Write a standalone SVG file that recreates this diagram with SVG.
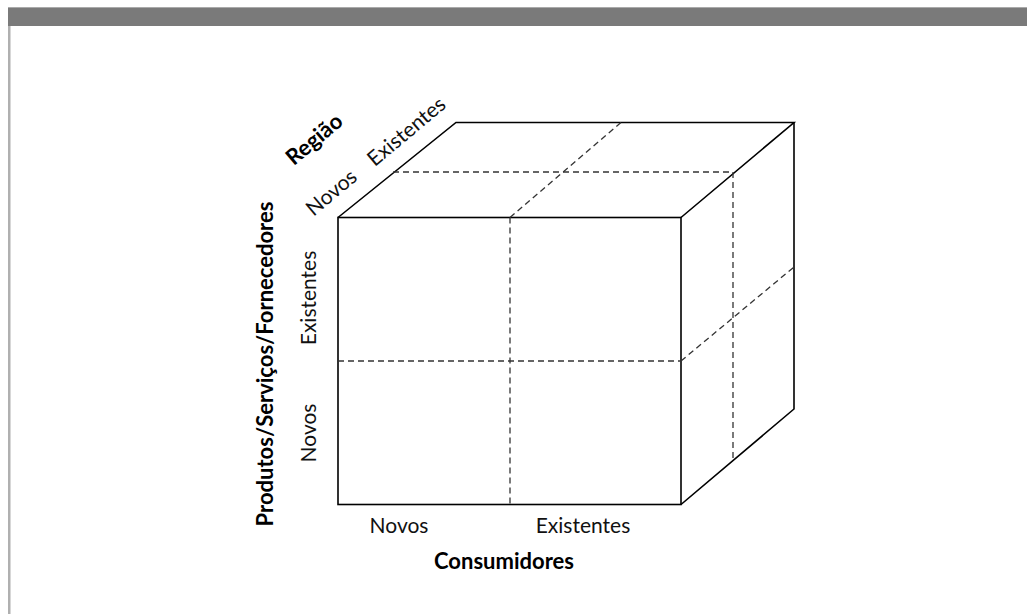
<svg xmlns="http://www.w3.org/2000/svg" width="1027" height="614" viewBox="0 0 1027 614">
  <style>
    .edge { stroke: #000; stroke-width: 1.6; fill: none; }
    .dash { stroke: #333; stroke-width: 1.3; fill: none; stroke-dasharray: 6 4; }
    .lbl { font-family: Lato, "Open Sans", sans-serif; font-size: 21px; fill: #111; text-anchor: middle; }
    .ttl { font-family: Lato, "Open Sans", sans-serif; font-size: 22px; font-weight: bold; fill: #000; text-anchor: middle; }
  </style>
  <rect width="1027" height="614" fill="#fff"/>
  <!-- page frame -->
  <rect x="8" y="7" width="1019" height="19" fill="#7a7a7a"/>
  <line x1="8" y1="7.5" x2="1027" y2="7.5" stroke="#aaa" stroke-width="1"/>
  <rect x="8" y="26" width="2.5" height="588" fill="#b0b0b0"/>

  <g id="cube">
    <!-- front face -->
    <rect class="edge" x="338" y="217.5" width="343" height="287"/>
    <!-- top and right faces -->
    <polyline class="edge" points="338,217.5 456,122.5 794,122.5 681,217.5"/>
    <polyline class="edge" points="794,122.5 794,409 681,504.5"/>
  </g>

  <g id="connectors">
    <!-- front face splits -->
    <line class="dash" x1="510" y1="217.5" x2="510" y2="504.5"/>
    <line class="dash" x1="338" y1="361" x2="681" y2="361"/>
    <!-- top face splits -->
    <line class="dash" x1="510" y1="217.5" x2="621" y2="122.5"/>
    <line class="dash" x1="393" y1="172" x2="733" y2="172"/>
    <!-- right face splits -->
    <line class="dash" x1="733" y1="172" x2="733" y2="459"/>
    <line class="dash" x1="681" y1="361" x2="794" y2="267"/>
  </g>

  <g id="axis-consumidores">
    <text class="lbl" x="399" y="533">Novos</text>
    <text class="lbl" x="583" y="533">Existentes</text>
    <text class="ttl" x="504" y="569">Consumidores</text>
  </g>

  <g id="axis-produtos">
    <text class="ttl" transform="translate(273,364) rotate(-90)">Produtos/Serviços/Fornecedores</text>
    <text class="lbl" transform="translate(316,298) rotate(-90)">Existentes</text>
    <text class="lbl" transform="translate(316,433) rotate(-90)">Novos</text>
  </g>

  <g id="axis-regiao">
    <text class="lbl" transform="translate(336,198) rotate(-40)">Novos</text>
    <text class="lbl" transform="translate(411,137) rotate(-40)">Existentes</text>
    <text class="ttl" transform="translate(319,145) rotate(-40)">Região</text>
  </g>
</svg>
